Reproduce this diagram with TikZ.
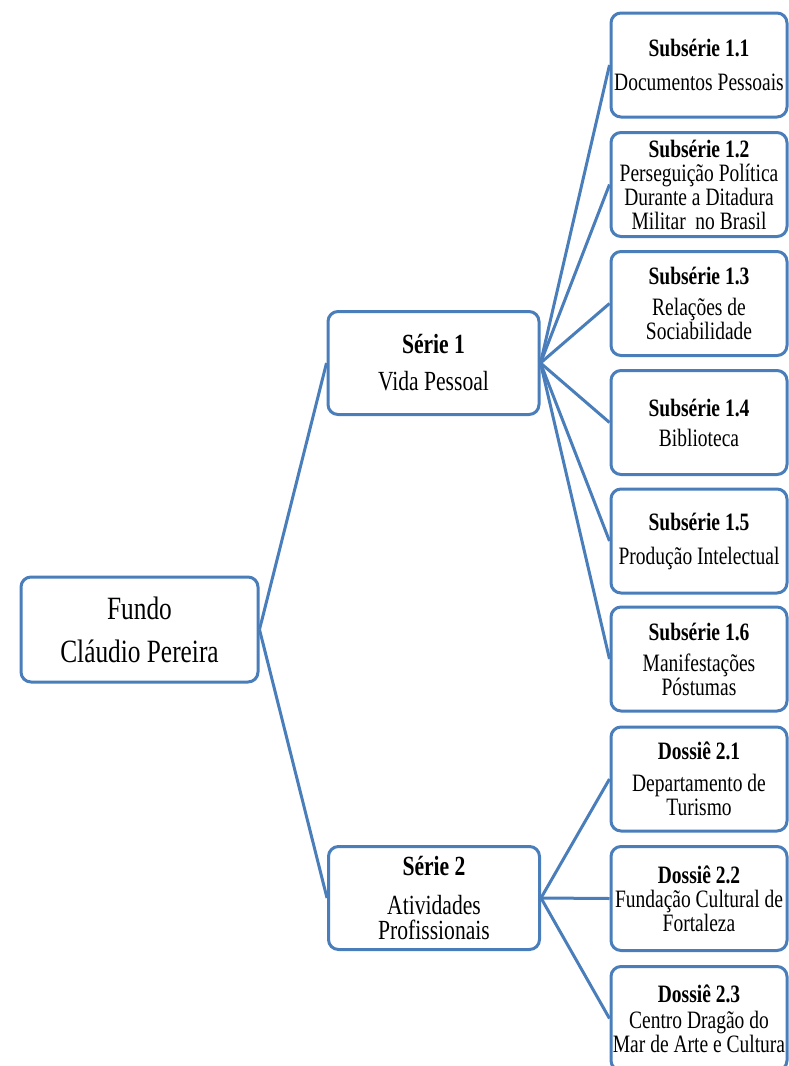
\documentclass[tikz,border=0pt]{standalone}
\usepackage{fontspec}
\setmainfont[FakeStretch=0.78]{Liberation Serif}
\definecolor{bl}{RGB}{74,126,187}
\begin{document}
\begin{tikzpicture}[x=1pt,y=-1pt,
  box/.style={draw=bl, line width=3pt, rounded corners=10pt, fill=white, align=center, inner sep=0pt},
  subbox/.style={box, minimum width=176pt, minimum height=104pt, font=\fontsize{25}{24}\selectfont},
  seriebox/.style={box, minimum width=211pt, minimum height=103pt},
  link/.style={draw=bl, line width=3pt}]
\useasboundingbox (0,0) rectangle (789,1066);
\clip (0,0) rectangle (789,1066);
\node[box, minimum width=237pt, minimum height=105pt, font=\fontsize{32.5}{43}\selectfont] (fundo) at (139.5,629.5) {Fundo\\Cláudio Pereira};
\node[seriebox, font=\fontsize{27.7}{37}\selectfont] (s1) at (433.5,363) {\textbf{Série 1}\\Vida Pessoal};
\node[seriebox, font=\fontsize{27.7}{25}\selectfont] (s2) at (434,898) {\textbf{Série 2}\\[14pt]Atividades\\Profissionais};
\node[subbox] (a1) at (699,65) {\textbf{Subsérie 1.1}\\[10pt]Documentos Pessoais};
\node[subbox] (a2) at (699,184.5) {\textbf{Subsérie 1.2}\\Perseguição Política\\Durante a Ditadura\\Militar~ no Brasil};
\node[subbox] (a3) at (699,303.5) {\textbf{Subsérie 1.3}\\[7pt]Relações de\\Sociabilidade};
\node[subbox] (a4) at (699,422.5) {\textbf{Subsérie 1.4}\\[6pt]Biblioteca};
\node[subbox] (a5) at (699,541) {\textbf{Subsérie 1.5}\\[10pt]Produção Intelectual};
\node[subbox] (a6) at (699,659) {\textbf{Subsérie 1.6}\\[7pt]Manifestações\\Póstumas};
\node[subbox] (d1) at (699,779) {\textbf{Dossiê 2.1}\\[8pt]Departamento de\\Turismo};
\node[subbox] (d2) at (699,898.5) {\textbf{Dossiê 2.2}\\Fundação Cultural de\\Fortaleza};
\node[subbox] (d3) at (699,1018.5) {\textbf{Dossiê 2.3}\\[2pt]Centro Dragão do\\Mar de Arte e Cultura};
\draw[link] (fundo.east) -- (s1.west);
\draw[link] (fundo.east) -- (s2.west);
\foreach \n in {a1,a2,a3,a4,a5,a6} \draw[link] (s1.east) -- (\n.west);
\foreach \n in {d1,d2,d3} \draw[link] (s2.east) -- (\n.west);
\end{tikzpicture}
\end{document}
